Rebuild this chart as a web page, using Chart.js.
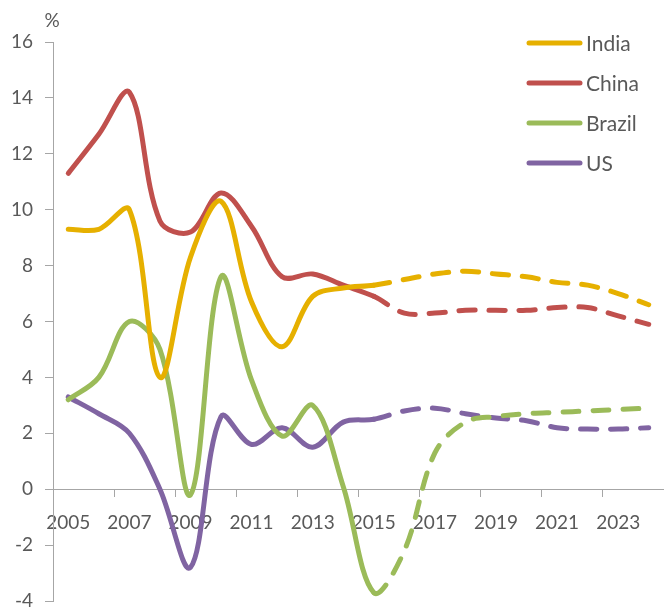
<!DOCTYPE html>
<html>
<head>
<meta charset="utf-8">
<script src="https://cdn.jsdelivr.net/npm/chart.js@4"></script>
<style>
  body { margin: 0; background: #fff; }
  #wrap { width: 664px; height: 608px; }
</style>
</head>
<body>
<div id="wrap"><canvas id="myChart"></canvas></div>
<script>
// jaren + groei (%)
var years = ['2005','2006','2007','2008','2009','2010','2011','2012','2013','2014',
             '2015','2016','2017','2018','2019','2020','2021','2022','2023','2024'];
var india  = [9.3, 9.3, 10.0, 4.0, 8.3, 10.3, 6.7, 5.1, 6.9, 7.2, 7.3, 7.5, 7.7, 7.8, 7.7, 7.6, 7.4, 7.3, 7.0, 6.6];
var china  = [11.3, 12.7, 14.2, 9.6, 9.2, 10.6, 9.4, 7.6, 7.7, 7.3, 6.9, 6.3, 6.3, 6.4, 6.4, 6.4, 6.5, 6.5, 6.2, 5.9];
var brazil = [3.2, 4.0, 6.0, 5.0, -0.2, 7.6, 3.9, 1.9, 3.0, 0.1, -3.7, -2.2, 1.3, 2.4, 2.6, 2.7, 2.75, 2.8, 2.85, 2.9];
var us     = [3.3, 2.7, 2.0, 0.0, -2.8, 2.6, 1.6, 2.2, 1.5, 2.4, 2.5, 2.8, 2.9, 2.7, 2.55, 2.45, 2.2, 2.15, 2.15, 2.2];
var yTicks = [-4, -2, 0, 2, 4, 6, 8, 10, 12, 14, 16];
var forecastFrom = 10; // vanaf 2015 gestippeld

var grey = '#595959';
var axisGrey = '#a6a6a6';
var FONT = 'Lato';

function makeSet(label, data, color) {
  return {
    label: label,
    data: data,
    borderColor: color,
    backgroundColor: color,
    borderWidth: 5,
    borderCapStyle: 'round',
    borderJoinStyle: 'round',
    pointRadius: 0,
    tension: 0.35,
    segment: {
      borderDash: function(ctx) { return ctx.p0DataIndex >= forecastFrom ? [16, 14] : undefined; }
    }
  };
}

// legenda + % label zelf tekenen
var extras = {
  id: 'extras',
  afterDraw: function(chart) {
    var c = chart.ctx;
    c.save();
    c.fillStyle = grey;
    c.font = '19px ' + FONT;
    c.textAlign = 'center';
    c.textBaseline = 'middle';
    c.fillText('%', 52, 21);

    c.font = '21px ' + FONT;
    c.textAlign = 'left';
    chart.data.datasets.forEach(function(ds, i) {
      var y = 43 + i * 40;
      c.strokeStyle = ds.borderColor;
      c.lineWidth = 5;
      c.lineCap = 'round';
      c.beginPath();
      c.moveTo(529, y);
      c.lineTo(580, y);
      c.stroke();
      c.fillText(ds.label, 586, y + 1);
    });
    c.restore();
  }
};

var ctx = document.getElementById('myChart').getContext('2d');
var myChart = new Chart(ctx, {
  type: 'line',
  data: {
    labels: years,
    datasets: [
      makeSet('India', india, '#e6b000'),
      makeSet('China', china, '#c0504d'),
      makeSet('Brazil', brazil, '#9bbb59'),
      makeSet('US', us, '#8064a2')
    ]
  },
  options: {
    responsive: true,
    maintainAspectRatio: false,
    animation: false,
    layout: { padding: { top: 42, bottom: 7, left: 0, right: -3 } },
    plugins: {
      legend: { display: false },
      tooltip: { enabled: false }
    },
    scales: {
      x: {
        offset: true,
        position: { y: 0 },
        afterFit: function(s) { s.paddingLeft = 0; s.paddingRight = 0; s.paddingTop = 0; s.paddingBottom = 0; },
        border: { color: axisGrey, width: 1 },
        grid: {
          offset: true,
          drawOnChartArea: false,
          drawTicks: true,
          tickLength: 7,
          color: function(c) { return c.index % 2 === 0 ? axisGrey : 'rgba(0,0,0,0)'; }
        },
        ticks: {
          autoSkip: false,
          maxRotation: 0,
          padding: 15,
          color: grey,
          font: { family: FONT, size: 19 },
          callback: function(v, i) { return i % 2 === 0 ? this.getLabelForValue(v) : ''; }
        }
      },
      y: {
        min: -4,
        max: 16,
        afterFit: function(s) { s.width = 53; s.paddingTop = 0; s.paddingBottom = 0; },
        afterBuildTicks: function(s) { s.ticks = yTicks.map(function(v) { return { value: v }; }); },
        border: { color: axisGrey, width: 1 },
        grid: {
          drawOnChartArea: false,
          drawTicks: true,
          tickLength: 8,
          color: axisGrey
        },
        ticks: {
          padding: 12,
          color: grey,
          font: { family: FONT, size: 19 }
        }
      }
    }
  },
  plugins: [extras]
});
</script>
</body>
</html>
